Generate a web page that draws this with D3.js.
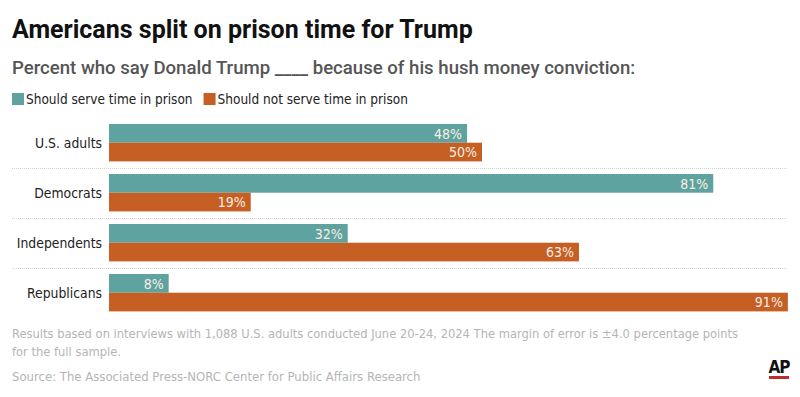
<!DOCTYPE html>
<html>
<head>
<meta charset="utf-8">
<script src="https://cdn.jsdelivr.net/npm/d3@7"></script>
<style>
  body { margin: 0; background: #fff; }
  svg { display: block; }
</style>
</head>
<body>
<div id="wrapper"></div>
<script>
/* global d3 */

const groups = ["U.S. adults", "Democrats", "Independents", "Republicans"]
const shouldServe = [48, 81, 32, 8]
const shouldNotServe = [50, 19, 63, 91]
const seriesNames = ["Should serve time in prison", "Should not serve time in prison"]
const colors = ["#5fa3a0", "#c55f24"]

const condensed = "'Liberation Sans Narrow', 'DejaVu Sans Condensed', 'Roboto', sans-serif"

function drawChart() {
  const width = 800
  const height = 397

  const dimensions = {
    left: 109,
    top: 124,
    rowStep: 50,
    barHeight: 18.7,
  }

  const svg = d3.select("#wrapper")
    .append("svg")
      .attr("width", width)
      .attr("height", height)

  // title + subtitle
  svg.append("text")
      .attr("x", 12)
      .attr("y", 38)
      .attr("font-family", "Roboto, sans-serif")
      .attr("font-weight", 700)
      .attr("font-size", 25)
      .attr("fill", "#111")
      .text("Americans split on prison time for Trump")

  svg.append("text")
      .attr("x", 12)
      .attr("y", 74)
      .attr("font-family", "Roboto, sans-serif")
      .attr("font-weight", 500)
      .attr("font-size", 18.6)
      .attr("fill", "#555")
      .text("Percent who say Donald Trump ____ because of his hush money conviction:")

  // legend
  const legend = svg.append("g")
  let lx = 12
  seriesNames.forEach((name, i) => {
    legend.append("rect")
        .attr("x", lx)
        .attr("y", 93)
        .attr("width", 12)
        .attr("height", 12)
        .attr("fill", colors[i])
    const t = legend.append("text")
        .attr("x", lx + 14)
        .attr("y", 104)
        .attr("font-family", condensed)
        .attr("font-size", 13.5)
        .attr("fill", "#222")
        .text(name)
    lx += 14 + t.node().getComputedTextLength() + 11
  })

  const xScale = d3.scaleLinear()
    .domain([0, 100])
    .range([dimensions.left, dimensions.left + 746])

  const yScale = d3.scaleBand()
    .domain(groups)
    .range([dimensions.top, dimensions.top + dimensions.rowStep * groups.length])

  // dotted separators
  groups.slice(1).forEach(g => {
    svg.append("line")
        .attr("x1", 12)
        .attr("x2", 788)
        .attr("y1", yScale(g) - 5.5)
        .attr("y2", yScale(g) - 5.5)
        .attr("stroke", "#d4d4d4")
        .attr("stroke-width", 1)
        .attr("stroke-dasharray", "1,1")
  })

  const rows = groups.map((g, i) => ({ group: g, values: [shouldServe[i], shouldNotServe[i]] }))

  const row = svg.selectAll(".row")
    .data(rows)
    .join("g")
      .attr("class", "row")
      .attr("transform", d => `translate(0, ${yScale(d.group)})`)

  row.append("text")
      .attr("x", 102)
      .attr("y", dimensions.barHeight + 5)
      .attr("text-anchor", "end")
      .attr("font-family", condensed)
      .attr("font-size", 13.8)
      .attr("fill", "#222")
      .text(d => d.group)

  const bar = row.selectAll(".bar")
    .data(d => d.values.map((v, i) => ({ v, i })))
    .join("g")
      .attr("class", "bar")

  bar.append("rect")
      .attr("x", xScale(0))
      .attr("y", d => d.i * dimensions.barHeight)
      .attr("width", d => xScale(d.v) - xScale(0))
      .attr("height", dimensions.barHeight)
      .attr("fill", d => colors[d.i])

  bar.append("text")
      .attr("x", d => xScale(d.v) - 5)
      .attr("y", d => d.i * dimensions.barHeight + 14.5)
      .attr("text-anchor", "end")
      .attr("font-family", condensed)
      .attr("font-size", 14)
      .attr("fill", "#fbeee4")
      .text(d => d.v + "%")

  // footer notes
  const notes = [
    "Results based on interviews with 1,088 U.S. adults conducted June 20-24, 2024 The margin of error is ±4.0 percentage points",
    "for the full sample.",
  ]
  notes.forEach((n, i) => {
    svg.append("text")
        .attr("x", 12)
        .attr("y", 338 + i * 18)
        .attr("font-family", condensed)
        .attr("font-size", 12.8)
        .attr("fill", "#b5b5b5")
        .text(n)
  })
  svg.append("text")
      .attr("x", 12)
      .attr("y", 381)
      .attr("font-family", condensed)
      .attr("font-size", 13)
      .attr("fill", "#b5b5b5")
      .text("Source: The Associated Press-NORC Center for Public Affairs Research")

  // AP logo
  svg.append("text")
      .attr("x", 779)
      .attr("y", 373)
      .attr("text-anchor", "middle")
      .attr("font-family", condensed)
      .attr("font-weight", 700)
      .attr("font-size", 17)
      .attr("letter-spacing", -1)
      .attr("fill", "#111")
      .text("AP")
  svg.append("rect")
      .attr("x", 769)
      .attr("y", 376)
      .attr("width", 20)
      .attr("height", 3)
      .attr("fill", "#c0282d")
}

drawChart()
</script>
</body>
</html>
